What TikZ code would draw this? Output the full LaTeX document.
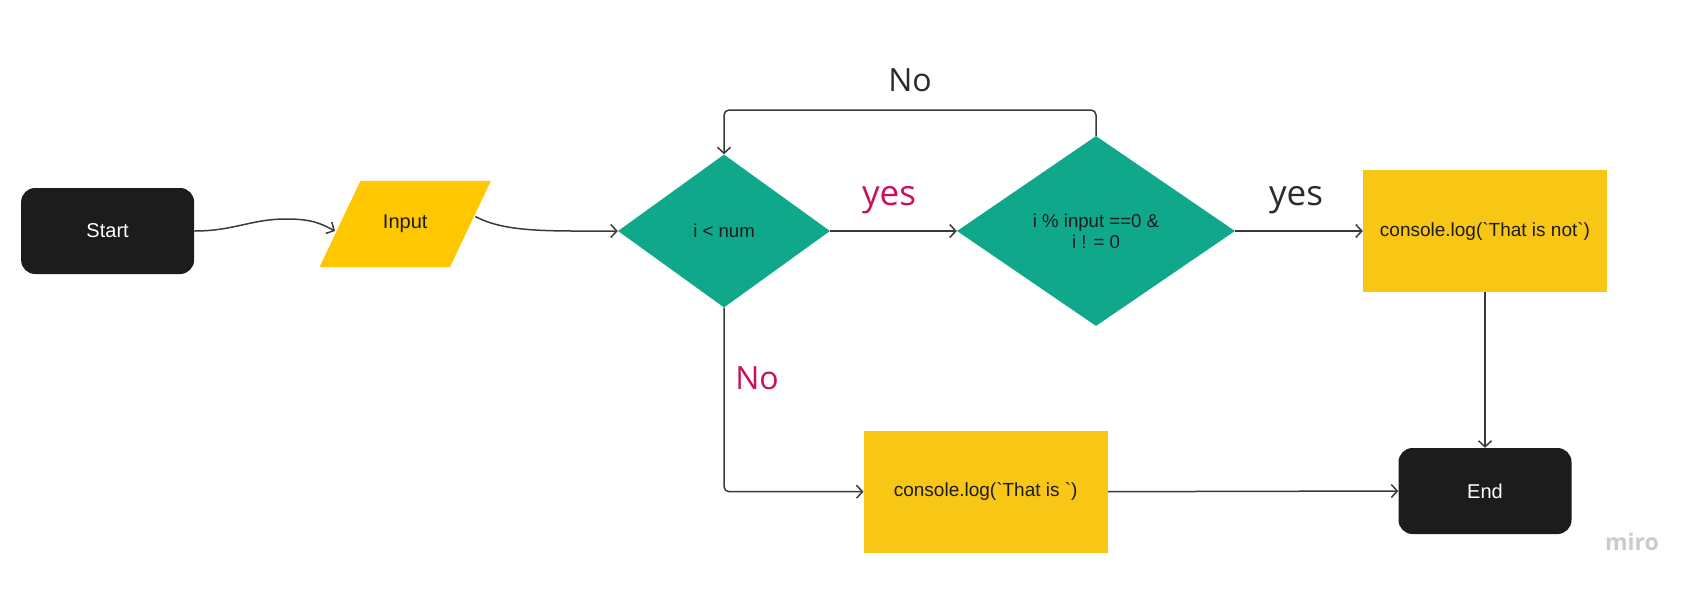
\documentclass[tikz,border=0pt]{standalone}
\usepackage{fontspec}
\setmainfont{Liberation Sans}
\newfontfamily\labelfont{Open Sans}
\usetikzlibrary{shapes.geometric,arrows.meta,calc,backgrounds}
\definecolor{nodeblack}{HTML}{1C1C1C}
\definecolor{inyellow}{HTML}{FFC700}
\definecolor{boxyellow}{HTML}{F8C614}
\definecolor{teal}{HTML}{0FA88A}
\definecolor{magentalbl}{HTML}{C8105F}
\definecolor{darklbl}{HTML}{2B2B2B}
\definecolor{linecol}{HTML}{3A3A3A}
\definecolor{mirogray}{HTML}{CACAD2}
\tikzset{
  termnode/.style={rectangle, rounded corners=14pt, fill=nodeblack, text=white,
    minimum width=173pt, minimum height=86pt, inner sep=0pt, font=\fontsize{20}{24}\selectfont},
  ionode/.style={rectangle, minimum width=130pt, minimum height=86pt,
    inner sep=0pt, text=nodeblack, font=\fontsize{20}{24}\selectfont},
  decnode/.style={diamond, fill=teal, inner sep=0pt, text=nodeblack,
    align=center, font=\fontsize{18.6}{21}\selectfont},
  procnode/.style={rectangle, fill=boxyellow, minimum width=244pt, minimum height=122pt,
    inner sep=0pt, text=nodeblack, font=\fontsize{19}{23}\selectfont},
  conn/.style={draw=linecol, line width=1.5pt, -{Straight Barb[length=6pt,width=13pt,line width=1.5pt]}},
  lbl/.style={font=\labelfont\fontsize{32}{38}\selectfont, inner sep=0pt},
  yeslbl/.style={font=\labelfont\fontsize{35}{40}\selectfont, inner sep=0pt},
}
\begin{document}
\begin{tikzpicture}[x=1pt,y=1pt]
\useasboundingbox (0,0) rectangle (1694,-590);

\node[termnode] (start) at (107.6,-231) {Start};
\node[ionode] (input) at (405.2,-224) {Input};
\begin{pgfonlayer}{background}
\fill[inyellow] ($(input.north west)+(20.5,0)$) -- ($(input.north east)+(20.5,0)$)
  -- ($(input.south east)+(-20.5,0)$) -- ($(input.south west)+(-20.5,0)$) -- cycle;
\end{pgfonlayer}
\node[decnode, minimum width=212pt, minimum height=153pt] (d1) at (724,-231) {i < num};
\node[decnode, minimum width=278pt, minimum height=190pt] (d2) at (1096,-231) {i \% input ==0 \&\\i ! = 0};
\node[procnode] (box1) at (1485,-231) {console.log(\textasciigrave That is not\textasciigrave)};
\node[procnode] (box2) at (985.7,-491.7) {console.log(\textasciigrave That is \textasciigrave)};
\node[termnode] (end) at (1485,-491) {End};

\coordinate (peak) at (286,-219);
\coordinate (looptop) at (910,-110);

% Start -> Input
\draw[conn] (start.east) .. controls +(40,0) and +(-35,0) .. (peak)
  .. controls +(25,0) and +(-15,8) .. ($(input.west)+(-5,-7)$);
% Input -> d1
\draw[conn] ($(input.east)+(5,7.5)$) .. controls +(30,-16) and +(-70,0) .. (d1.west);
% d1 -> d2
\draw[conn] (d1.east) -- (d2.west);
\node[yeslbl, text=magentalbl] (yes1) at (889,-200) {yes};
% d2 -> box1
\draw[conn] (d2.east) -- (box1.west);
\node[yeslbl, text=darklbl] (yes2) at (1296,-200) {yes};
% loop back
\draw[conn, rounded corners=5pt] (d2.north) |- (looptop) -| (d1.north);
\node[lbl, text=darklbl] (no1) at (910,-80) {No};
% d1 -> box2
\draw[conn, rounded corners=5pt] (d1.south) |- (box2.west);
\node[lbl, text=magentalbl] (no2) at (757,-378) {No};
% box1 -> end
\draw[conn] (box1.south) -- (end.north);
% box2 -> end
\draw[conn] (box2.east) -- (end.west);

\node[font=\labelfont\bfseries\fontsize{23}{28}\selectfont, text=mirogray] (miro) at (1632,-542) {miro};
\end{tikzpicture}
\end{document}
